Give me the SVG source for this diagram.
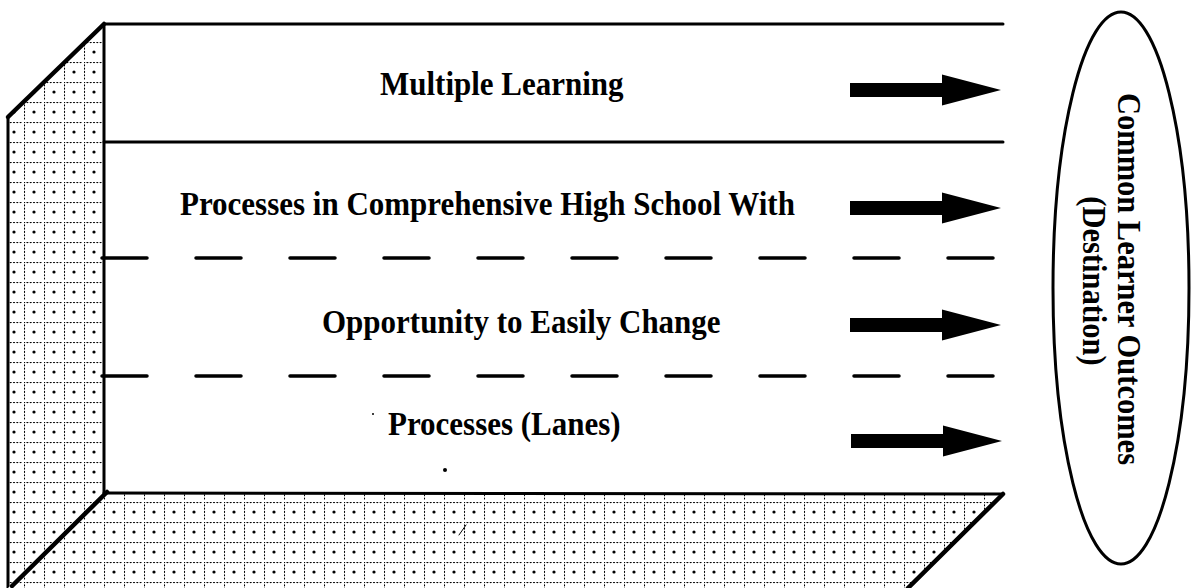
<svg xmlns="http://www.w3.org/2000/svg" width="1191" height="588" viewBox="0 0 1191 588">
  <style>
    .edge { stroke: #000; fill: none; stroke-linecap: round; }
    .lane-label { font-family: "Liberation Serif", "Times New Roman", serif; font-weight: bold; font-size: 31px; fill: #000; }
    .dest-label { font-family: "Liberation Serif", "Times New Roman", serif; font-weight: bold; font-size: 30.5px; fill: #000; }
    .arrow { fill: #000; }
  </style>
  <defs>
    <!-- dotted grid used for the wall and floor surfaces -->
    <pattern id="dotgrid" patternUnits="userSpaceOnUse" x="4" y="2" width="20" height="20">
      <rect width="20" height="20" fill="#fff"/>
      <g fill="#000">
        <circle cx="0" cy="0" r="1.25"/>
        <circle cx="3.4" cy="0" r="1.15"/>
        <circle cx="6.7" cy="0" r="1.15"/>
        <circle cx="10" cy="0" r="1.15"/>
        <circle cx="13.3" cy="0" r="1.15"/>
        <circle cx="16.6" cy="0" r="1.15"/>
        <circle cx="0" cy="3.4" r="1.15"/>
        <circle cx="0" cy="6.7" r="1.15"/>
        <circle cx="0" cy="10" r="1.15"/>
        <circle cx="0" cy="13.3" r="1.15"/>
        <circle cx="0" cy="16.6" r="1.15"/>
        <circle cx="10" cy="10" r="1.6"/>
      </g>
    </pattern>
    <path id="lane-arrow" d="M0,-7 L92,-7 L92,-15.5 L151,0 L92,15.5 L92,7 L0,7 Z"/>
  </defs>

  <rect width="1191" height="588" fill="#fff"/>

  <!-- side wall and floor -->
  <g id="side-wall">
    <path d="M104,24 L104,493 L12,586 L8,588 L8,117 Z" fill="url(#dotgrid)"/>
    <path class="edge" d="M104,24 L8,117" stroke-width="4.5"/>
    <path class="edge" d="M8,117 L8,588" stroke-width="3"/>
    <path class="edge" d="M104,24 L104,493" stroke-width="3"/>
  </g>
  <g id="floor">
    <path d="M104,493 L1003,494 L908,588 L8,588 Z" fill="url(#dotgrid)"/>
    <path class="edge" d="M104,493 L1003,494" stroke-width="3"/>
    <path class="edge" d="M1003,494 L908,588" stroke-width="4.5"/>
    <path class="edge" d="M107,492 L12,586" stroke-width="4.5"/>
    <line class="edge" x1="459" y1="535" x2="466" y2="525" stroke-width="1"/>
  </g>

  <!-- lane boundaries -->
  <g id="lanes">
    <line class="edge" x1="104" y1="24" x2="1003" y2="24" stroke-width="3"/>
    <line class="edge" x1="104" y1="142" x2="1003" y2="142" stroke-width="3"/>
    <line class="edge" x1="102" y1="258" x2="1000" y2="258" stroke-width="3.5" stroke-dasharray="45 49" stroke-linecap="butt"/>
    <line class="edge" x1="102" y1="376" x2="1000" y2="376" stroke-width="3.5" stroke-dasharray="45 49" stroke-linecap="butt"/>
  </g>

  <g id="lane-1"><text class="lane-label" transform="translate(380,95) scale(1,1.08)">Multiple Learning</text></g>
  <g id="lane-2"><text class="lane-label" transform="translate(180,215) scale(1,1.08)">Processes in Comprehensive High School With</text></g>
  <g id="lane-3"><text class="lane-label" transform="translate(322,333) scale(1,1.08)">Opportunity to Easily Change</text></g>
  <g id="lane-4"><text class="lane-label" transform="translate(388,435) scale(1,1.08)">Processes (Lanes)</text></g>

  <!-- specks -->
  <circle cx="445" cy="470" r="2" fill="#000"/>
  <circle cx="373" cy="414" r="1" fill="#000"/>

  <!-- destination -->
  <g id="destination">
    <ellipse cx="1121" cy="288" rx="68" ry="276" fill="none" stroke="#000" stroke-width="3"/>
    <text class="dest-label" text-anchor="middle" transform="translate(1118,279) rotate(90) scale(1,1.08)">Common Learner Outcomes</text>
    <text class="dest-label" text-anchor="middle" transform="translate(1083,281) rotate(90) scale(1,1.08)">(Destination)</text>
  </g>

  <!-- lane arrows toward the destination -->
  <g id="connectors" class="arrow">
    <use href="#lane-arrow" transform="translate(850,90)"/>
    <use href="#lane-arrow" transform="translate(850,208)"/>
    <use href="#lane-arrow" transform="translate(850,325)"/>
    <use href="#lane-arrow" transform="translate(851,441)"/>
  </g>
</svg>
